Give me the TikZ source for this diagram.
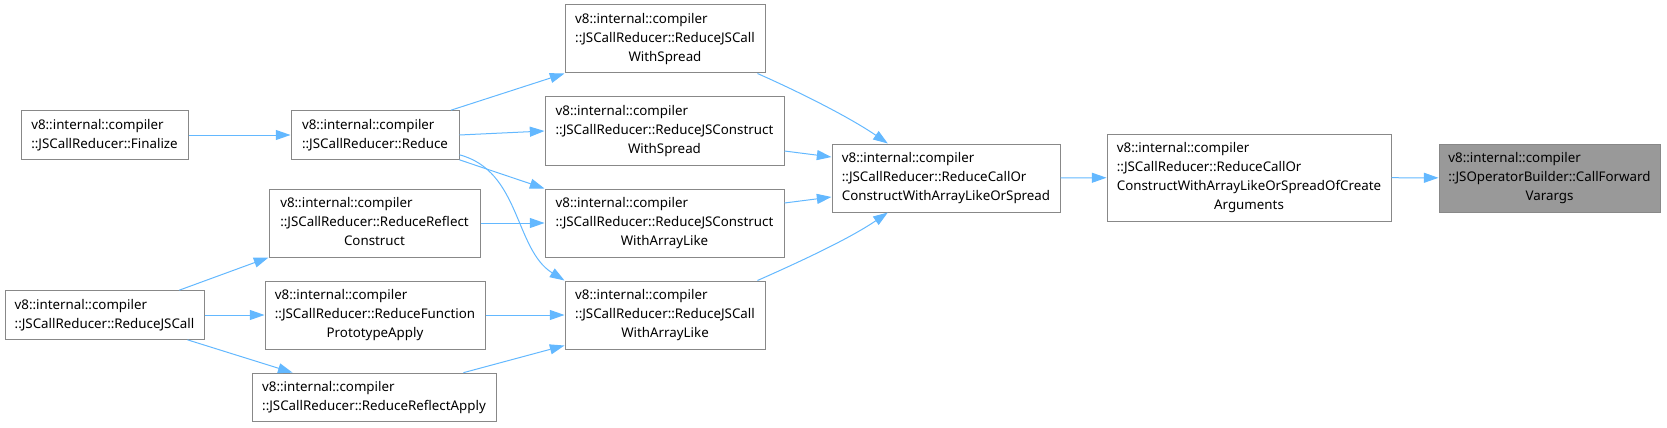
\documentclass[tikz,border=0pt]{standalone}
\usepackage{fontspec}
\setmainfont{Noto Sans}
\usetikzlibrary{arrows.meta,calc}
\definecolor{EdgeBlue}{HTML}{63B8FF}
\definecolor{BoxGray}{HTML}{888888}
\definecolor{HiliteGray}{HTML}{999999}
\newcommand{\lns}[1]{\begin{tabular}{@{}l@{}}#1\end{tabular}}
\newcommand{\lastc}[1]{\multicolumn{1}{@{}c@{}}{#1}}

\begin{document}
\begin{tikzpicture}[
      x=0.75pt, y=-0.75pt,
      box/.style={
        draw=BoxGray,
        line width=0.75pt,
        fill=white,
        inner sep=0pt,
        minimum height=51pt,
        font=\fontsize{10pt}{14.25pt}\selectfont
      },
      short/.style={minimum height=36.5pt},
      hilite/.style={fill=HiliteGray},
      flow/.style={-{Triangle[length=11pt,width=7.5pt]}, draw=EdgeBlue, line width=0.75pt}
    ]
      \useasboundingbox (0,0) rectangle (1667,428);
      % left column
      \node[box, short, minimum width=125.25pt] (fin) at (104.5,135) {\lns{v8::internal::compiler\\::JSCallReducer::Finalize}};
      \node[box, short, minimum width=149.25pt] (jsc) at (104.5,315) {\lns{v8::internal::compiler\\::JSCallReducer::ReduceJSCall}};
      % second column
      \node[box, short, minimum width=126pt] (red) at (375,135) {\lns{v8::internal::compiler\\::JSCallReducer::Reduce}};
      \node[box, minimum width=158.25pt] (rrc) at (374.5,223) {\lns{v8::internal::compiler\\::JSCallReducer::ReduceReflect\\\lastc{Construct}}};
      \node[box, minimum width=165pt] (fpa) at (375,315) {\lns{v8::internal::compiler\\::JSCallReducer::ReduceFunction\\\lastc{PrototypeApply}}};
      \node[box, short, minimum width=183pt] (rra) at (374,397.5) {\lns{v8::internal::compiler\\::JSCallReducer::ReduceReflectApply}};
      % third column
      \node[box, minimum width=150pt] (cws) at (665,39) {\lns{v8::internal::compiler\\::JSCallReducer::ReduceJSCall\\\lastc{WithSpread}}};
      \node[box, minimum width=179.25pt] (kws) at (664.5,131) {\lns{v8::internal::compiler\\::JSCallReducer::ReduceJSConstruct\\\lastc{WithSpread}}};
      \node[box, minimum width=179.25pt] (kwa) at (664.5,223) {\lns{v8::internal::compiler\\::JSCallReducer::ReduceJSConstruct\\\lastc{WithArrayLike}}};
      \node[box, minimum width=150pt] (cwa) at (665,315) {\lns{v8::internal::compiler\\::JSCallReducer::ReduceJSCall\\\lastc{WithArrayLike}}};
      % right part
      \node[box, minimum width=171pt] (coc) at (946,178) {\lns{v8::internal::compiler\\::JSCallReducer::ReduceCallOr\\ConstructWithArrayLikeOrSpread}};
      \node[box, minimum width=213pt, minimum height=65.25pt] (cca) at (1249,177.5) {\lns{v8::internal::compiler\\::JSCallReducer::ReduceCallOr\\ConstructWithArrayLikeOrSpreadOfCreate\\\lastc{Arguments}}};
      \node[box, hilite, minimum width=165.75pt] (cfv) at (1549.5,178) {\lns{v8::internal::compiler\\::JSOperatorBuilder::CallForward\\\lastc{Varargs}}};

      \draw[flow] (fin) -- (red);
      \draw[flow] ($(red.north west)!0.95!(red.north east)$) -- (cws.south west);
      \draw[flow] (red.east) -- (kws.west);
      \draw[flow] (red.south east) -- (kwa.north west);
      \draw[flow] ($(red.south east)+(0,-5)$) .. controls +(61,16) and +(-50,-31) .. (cwa.north west);
      \draw[flow] (rrc) -- (kwa);
      \draw[flow] ($(jsc.north west)!0.874!(jsc.north east)$) -- (rrc.south west);
      \draw[flow] (jsc) -- (fpa);
      \draw[flow] ($(jsc.south west)!0.915!(jsc.south east)$) -- ($(rra.north west)!0.168!(rra.north east)$);
      \draw[flow] (fpa) -- (cwa);
      \draw[flow] ($(rra.north west)!0.865!(rra.north east)$) -- ($(cwa.south west)+(0,-4)$);
      \draw[flow] ($(cws.south west)!0.96!(cws.south east)$) .. controls +(43,19) and +(-38,-26) .. ($(coc.north west)!0.246!(coc.north east)$);
      \draw[flow] ($(kws.east)+(0,20)$) -- ($(coc.west)+(0,-21)$);
      \draw[flow] ($(kwa.east)+(0,-20)$) -- ($(coc.west)+(0,19)$);
      \draw[flow] ($(cwa.north west)!0.96!(cwa.north east)$) .. controls +(43,-19) and +(-38,26) .. ($(coc.south west)!0.246!(coc.south east)$);
      \draw[flow] (coc) -- (cca);
      \draw[flow] (cca) -- (cfv);
    \end{tikzpicture}
\end{document}
